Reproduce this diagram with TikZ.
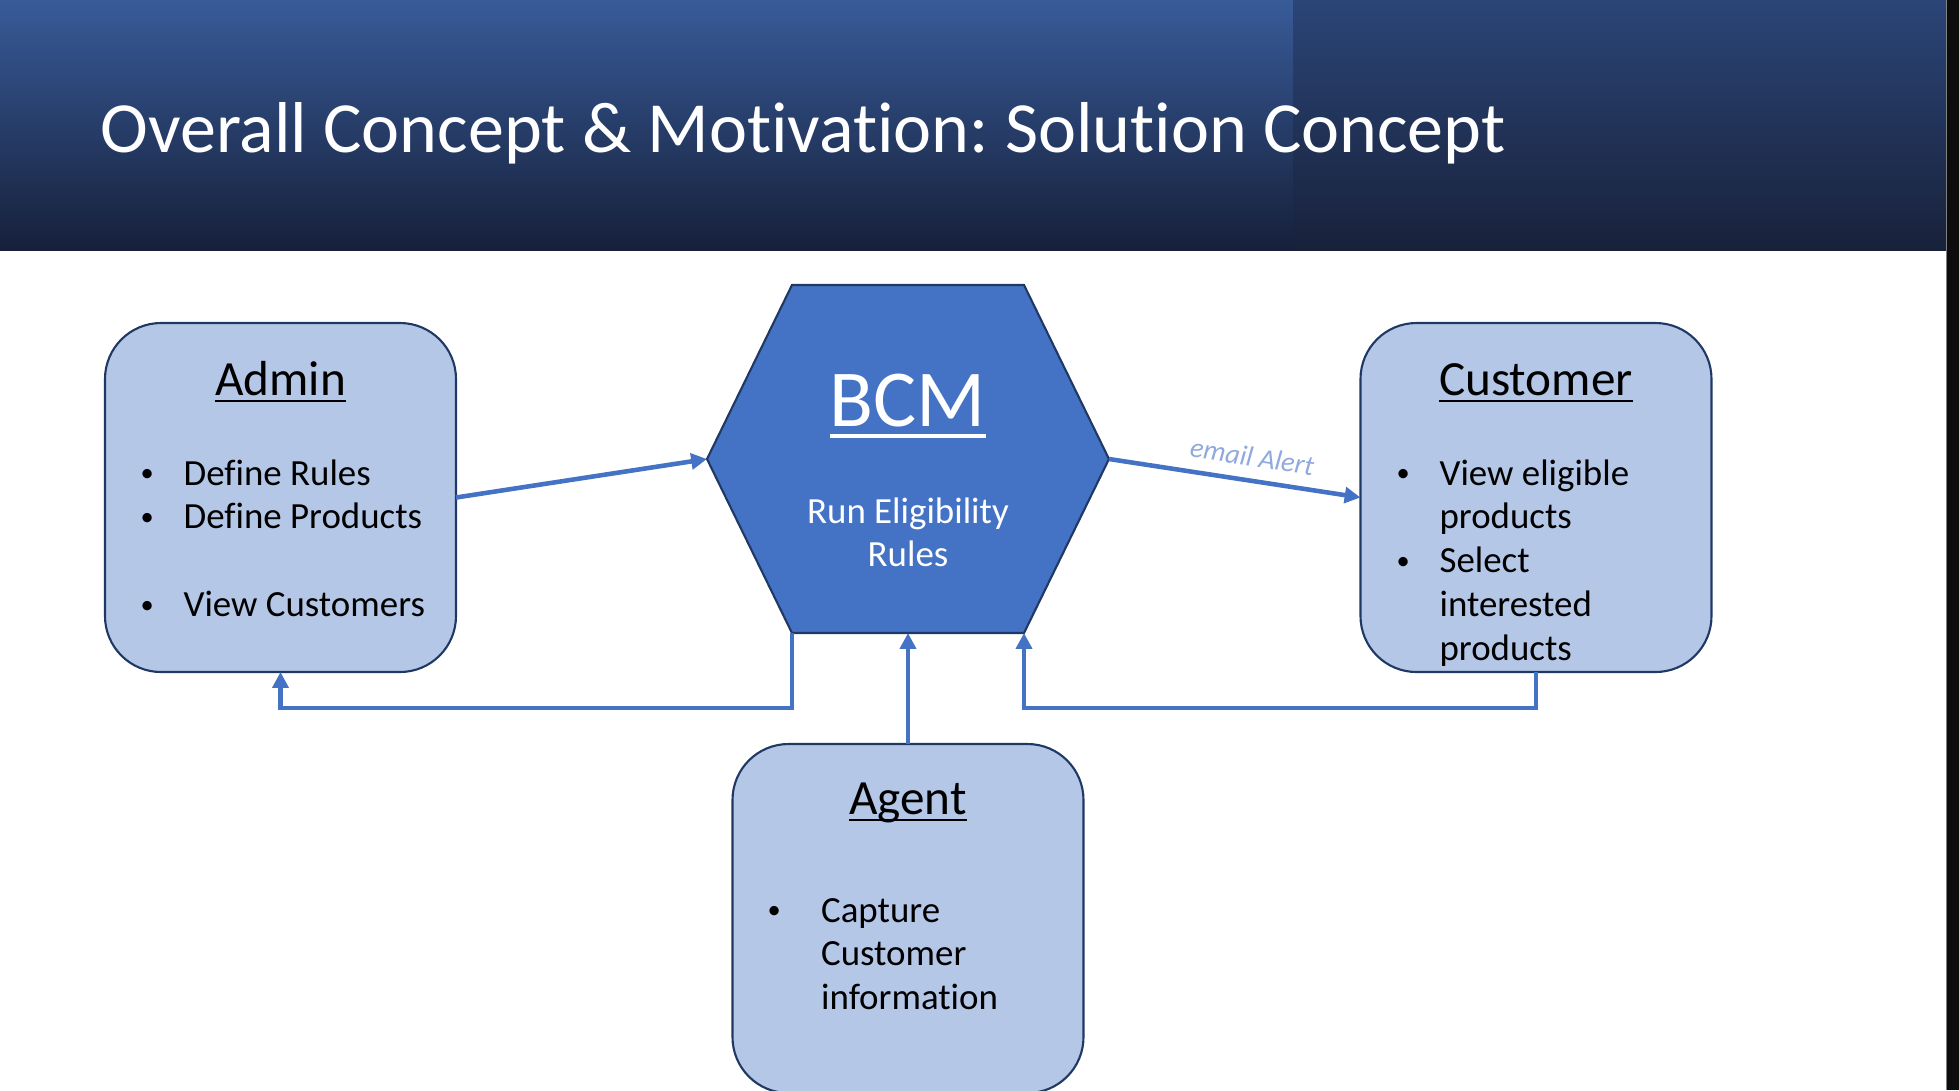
\documentclass[tikz,border=0pt]{standalone}
\usepackage{fontspec}
\setmainfont{Carlito}[Ligatures=NoCommon]
\usepackage{tikz}
\usetikzlibrary{arrows.meta,positioning,calc}
\frenchspacing
\definecolor{boxfill}{HTML}{B4C7E7}
\definecolor{boxline}{HTML}{203864}
\definecolor{hexfill}{HTML}{4472C4}
\definecolor{flowblue}{HTML}{4472C4}
\definecolor{alertblue}{HTML}{8FAADC}
\definecolor{headtop}{HTML}{385B99}
\definecolor{headbot}{HTML}{16203A}
\definecolor{headtopR}{HTML}{2B4577}
\definecolor{headbotR}{HTML}{18213A}
\newcommand{\ulin}[1]{\leavevmode\setbox0\hbox{#1}\rlap{\rule[-0.15em]{\wd0}{0.055em}}\box0}
\newcommand{\bul}{\raisebox{0.9pt}{\fontsize{7.5}{9}\selectfont\textbullet}}

\begin{document}
\begin{tikzpicture}[->,>={Triangle[length=4.5pt,width=4.5pt]},
    actor/.style={rectangle,rounded corners=0.56cm,draw=boxline,line width=0.6pt,fill=boxfill,
        minimum width=3.51cm,minimum height=3.49cm,inner sep=0pt,outer sep=0pt},
    head/.style={anchor=base,inner sep=0pt,font=\fontsize{14}{17}\selectfont},
    items/.style={anchor=base west,inner sep=0pt,font=\fontsize{10.5}{12.5}\selectfont},
    flow/.style={draw=flowblue,line width=1.3pt}]
    \useasboundingbox (0,0) rectangle (19.59,-10.90);
    \clip (0,0) rectangle (19.59,-10.90);
    % header band
    \shade[top color=headtop,bottom color=headbot] (0,0) rectangle (12.93,-2.50);
    \shade[top color=headtopR,bottom color=headbotR] (12.93,0) rectangle (19.47,-2.50);
    \fill[black!95] (19.47,0) rectangle (19.59,-10.90);
    \fill[gray] (19.46,0) rectangle (19.47,-10.90);
    \node[anchor=base west,inner sep=0pt,text=white,font=\fontsize{20.5}{24}\selectfont] (title)
        at (1.00,-1.52) {Overall Concept \& Motivation: Solution Concept};
    % BCM hexagon
    \coordinate (hexW) at (7.07,-4.59);
    \coordinate (hexNW) at (7.92,-2.85);
    \coordinate (hexNE) at (10.24,-2.85);
    \coordinate (hexE) at (11.09,-4.59);
    \coordinate (hexSE) at (10.24,-6.33);
    \coordinate (hexSW) at (7.92,-6.33);
    \filldraw[-,fill=hexfill,draw=boxline,line width=0.6pt]
        (hexW) -- (hexNW) -- (hexNE) -- (hexE) -- (hexSE) -- (hexSW) -- cycle;
    \node[anchor=base,inner sep=0pt,text=white,font=\fontsize{23}{28}\selectfont] (bcm)
        at (9.08,-4.26) {\ulin{BCM}};
    \node[anchor=base,inner sep=0pt,text=white,font=\fontsize{10.5}{12.5}\selectfont] (bcmrules)
        at (9.08,-5.23) {\begin{tabular}[t]{@{}c@{}}Run Eligibility\\Rules\end{tabular}};
    % actors
    \node[actor] (admin) at (2.805,-4.975) {};
    \node[actor] (customer) at (15.36,-4.975) {};
    \node[actor] (agent) at (9.08,-9.185) {};
    \node[head] (adminhead) at ($(admin.north)+(0,-0.72)$) {\ulin{Admin}};
    \node[head] (customerhead) at ($(customer.north)+(0,-0.72)$) {\ulin{Customer}};
    \node[head] (agenthead) at ($(agent.north)+(0,-0.70)$) {\ulin{Agent}};
    \node[items] (adminlist) at (1.40,-4.85) {\begin{tabular}[t]{@{}p{12.2pt}@{}l@{}}
        \bul & Define Rules\\ \bul & Define Products\\ & \\ \bul & View Customers\end{tabular}};
    \node[items] (customerlist) at (13.96,-4.85) {\begin{tabular}[t]{@{}p{12.2pt}@{}l@{}}
        \bul & View eligible\\ & products\\ \bul & Select\\ & interested\\ & products\end{tabular}};
    \node[items] (agentlist) at (7.67,-9.22) {\begin{tabular}[t]{@{}p{15.2pt}@{}l@{}}
        \bul & Capture\\ & Customer\\ & information\end{tabular}};
    % connectors
    \draw[flow] (admin.east) -- (hexW);
    \draw[flow] (hexE) -- node[sloped,above=0.12cm,pos=0.555,inner sep=0pt,text=alertblue,
        font=\fontsize{8}{10}\selectfont\itshape] (alert) {email Alert} (customer.west);
    \draw[flow] (hexSW) -- ++(0,-0.75) -| (admin.south);
    \draw[flow] (agent.north) -- (agent.north |- hexSE);
    \draw[flow] (customer.south) -- ++(0,-0.36) -| (hexSE);
\end{tikzpicture}
\end{document}
